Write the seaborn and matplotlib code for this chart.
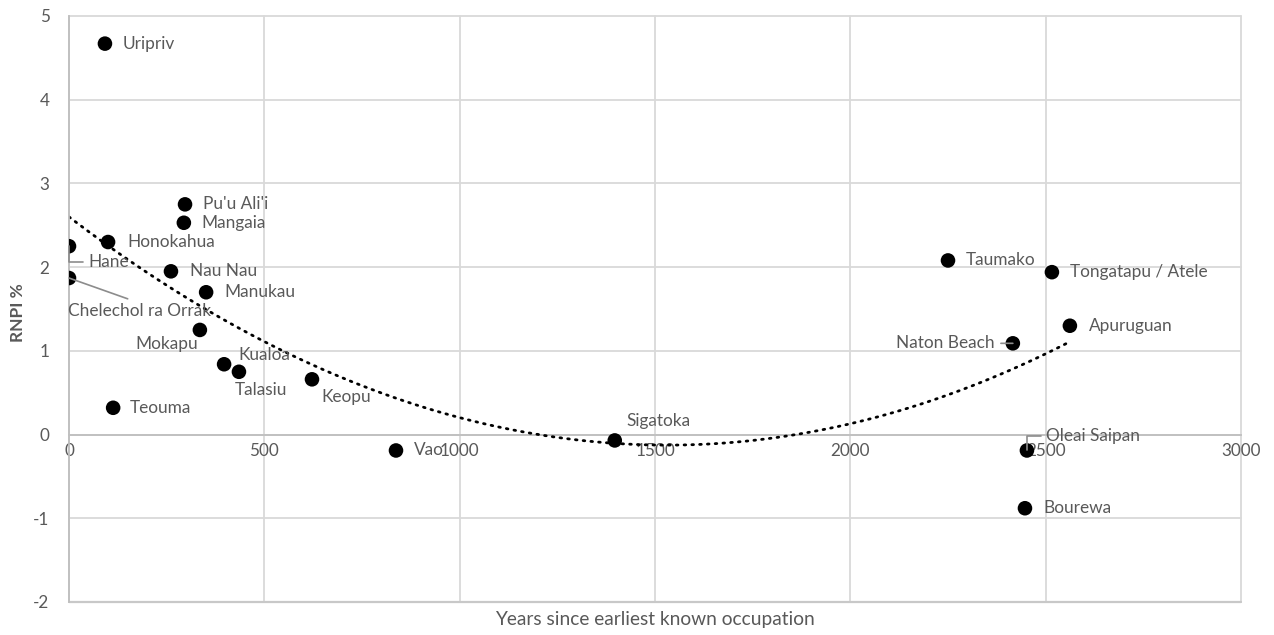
import matplotlib
matplotlib.use("Agg")
import matplotlib.pyplot as plt
import seaborn as sns
import pandas as pd

# Sites, years since earliest known occupation, and RNPI (%)
sites = ["Uripriv", "Pu'u Ali'i", "Mangaia", "Honokahua", "Hane", "Nau Nau",
         "Chelechol ra Orrak", "Manukau", "Mokapu", "Kualoa", "Talasiu", "Keopu",
         "Teouma", "Vao", "Sigatoka", "Taumako", "Tongatapu / Atele", "Apuruguan",
         "Naton Beach", "Oleai Saipan", "Bourewa"]
years = [92, 297, 294, 100, 0, 261,
         0, 351, 335, 397, 435, 622,
         113, 837, 1397, 2250, 2516, 2562,
         2416, 2452, 2447]
rnpi = [4.67, 2.75, 2.53, 2.30, 2.25, 1.95,
        1.87, 1.70, 1.25, 0.84, 0.75, 0.66,
        0.32, -0.19, -0.07, 2.08, 1.94, 1.30,
        1.09, -0.19, -0.88]

x_ticks = [0, 500, 1000, 1500, 2000, 2500, 3000]
y_ticks = [-2, -1, 0, 1, 2, 3, 4, 5]

df = pd.DataFrame({"site": sites, "years": years, "rnpi": rnpi})

sns.set_theme(style="white")
plt.rcParams["font.family"] = ["Lato", "DejaVu Sans"]
plt.rcParams["axes.unicode_minus"] = False
TXT = "#595959"
GRID = "#d9d9d9"
LEAD = "#8c8c8c"
FS = 12.4

fig = plt.figure(figsize=(12.74, 6.35), dpi=100)
ax = fig.add_axes([69 / 1274, 33 / 635, 1172 / 1274, 586 / 635])

# gridlines
for xv in x_ticks:
    ax.axvline(xv, color=GRID, lw=1.3, zorder=0, clip_on=False)
for yv in y_ticks:
    ax.axhline(yv, color=GRID, lw=1.3, zorder=0, clip_on=False)
ax.axhline(-2, color="#c8c8c8", lw=1.6, zorder=0, clip_on=False)

# quadratic trend line
sns.regplot(data=df, x="years", y="rnpi", order=2, ci=None, ax=ax,
            scatter=False, truncate=True,
            line_kws=dict(color="black", lw=2.0, linestyle=(0, (0.6, 2.2)),
                          dash_capstyle="round", zorder=2))

# points
sns.scatterplot(data=df, x="years", y="rnpi", ax=ax, color="black", s=110,
                edgecolor="none", zorder=4, legend=False)

# label offsets in pixels (dx, dy, ha, leader)
pt = 72 / 100
offsets = {
    "Uripriv": (18, 0, "left", None),
    "Pu'u Ali'i": (18, 0, "left", None),
    "Mangaia": (18, 0, "left", None),
    "Honokahua": (19, 0, "left", None),
    "Hane": (19, -16, "left", "angle"),
    "Nau Nau": (19, 0, "left", None),
    "Chelechol ra Orrak": (-1, -33, "left", "straight"),
    "Manukau": (18, 0, "left", None),
    "Mokapu": (-2, -14, "right", None),
    "Kualoa": (14, 9, "left", None),
    "Talasiu": (-4, -18, "left", None),
    "Keopu": (9, -18, "left", None),
    "Teouma": (17, 0, "left", None),
    "Vao": (18, 0, "left", None),
    "Sigatoka": (12, 19, "left", None),
    "Taumako": (18, 0, "left", None),
    "Tongatapu / Atele": (18, 0, "left", None),
    "Apuruguan": (19, 0, "left", None),
    "Naton Beach": (-18, 0, "right", "straight"),
    "Oleai Saipan": (19, 14, "left", "angle"),
    "Bourewa": (18, 0, "left", None),
}

for s, xv, yv in zip(sites, years, rnpi):
    dx, dy, ha, leader = offsets[s]
    arrow = None
    if leader == "angle":
        arrow = dict(arrowstyle="-", color=LEAD, lw=1.2, shrinkA=1, shrinkB=0,
                     connectionstyle="angle,angleA=0,angleB=90,rad=0",
                     relpos=(0, 0.5), zorder=6)
    elif leader == "straight":
        arrow = dict(arrowstyle="-", color=LEAD, lw=1.2, shrinkA=2, shrinkB=0,
                     relpos=(0.5, 1.0) if s.startswith("Chel") else (1.0, 0.5))
    ann = ax.annotate(s, (xv, yv), xytext=(dx * pt, dy * pt), textcoords="offset points",
                      ha=ha, va="center", fontsize=FS, color=TXT, zorder=5,
                      arrowprops=arrow)

ax.set_xlim(0, 3000)
ax.set_ylim(-2, 5)
ax.set_xticks(x_ticks)
ax.set_yticks(y_ticks)
ax.tick_params(axis="both", length=0, labelsize=12.3, labelcolor=TXT)
ax.tick_params(axis="y", pad=14)
ax.tick_params(axis="x", pad=6)

for side in ["top", "right"]:
    ax.spines[side].set_visible(False)
ax.spines["bottom"].set_position(("data", 0))
ax.spines["bottom"].set_color("#bfbfbf")
ax.spines["left"].set_color("#bfbfbf")
ax.spines["bottom"].set_linewidth(1.3)
ax.spines["left"].set_linewidth(1.3)
ax.spines["bottom"].set_zorder(1)

ax.set_xlabel("")
ax.set_ylabel("")
fig.text(655 / 1274, 1 - 620 / 635, "Years since earliest known occupation",
         ha="center", va="center", fontsize=13.8, color=TXT)
fig.text(18 / 1274, 1 - 313 / 635, "RNPI %", ha="center", va="center",
         rotation=90, fontsize=12.5, fontweight="bold", color=TXT)

fig.savefig("out.png", dpi=100)
